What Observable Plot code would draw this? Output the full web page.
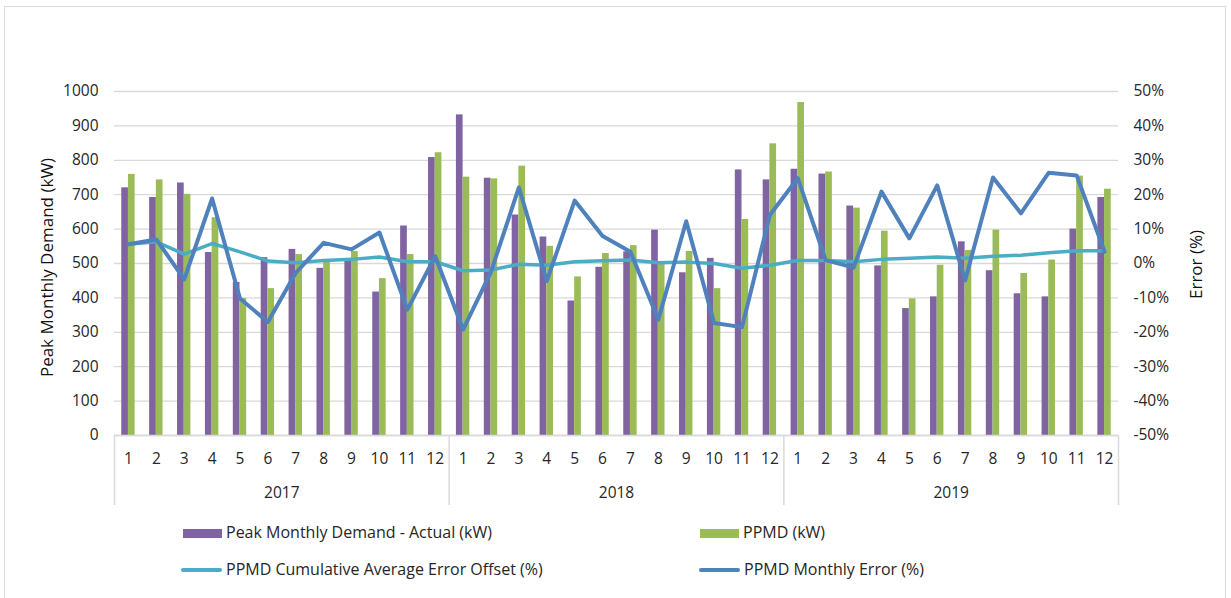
<!DOCTYPE html>
<html>
<head>
<meta charset="utf-8">
<script src="https://cdn.jsdelivr.net/npm/d3@7"></script>
<script src="https://cdn.jsdelivr.net/npm/@observablehq/plot@0.6"></script>
<style>
  html, body { margin: 0; padding: 0; background: #fff; }
  #wrap { position: relative; width: 1231px; height: 598px; overflow: hidden; font-family: "Open Sans", "Noto Sans", sans-serif; color: #262626; }
  #border { position: absolute; left: 4px; top: 6px; width: 1222px; height: 600px; border: 1.5px solid #d9d9d9; box-sizing: border-box; }
  #chart { position: absolute; left: 0; top: 0; }
  .leg { position: absolute; font-size: 16px; line-height: 18px; white-space: nowrap; }
  .sw { position: absolute; }
</style>
</head>
<body>
<div id="wrap">
  <div id="border"></div>
  <div id="chart"></div>
  <div id="legend"></div>
</div>
<script>
// ---- data ----
const years = ["2017", "2018", "2019"];
const monthLabels = ["1","2","3","4","5","6","7","8","9","10","11","12"];
const actualKW = [
  720, 692, 734, 532, 445, 517, 541, 486, 510, 417, 609, 808,
  932, 748, 641, 577, 391, 489, 534, 597, 473, 515, 772, 743,
  774, 760, 667, 493, 369, 403, 563, 479, 412, 403, 600, 692
];
const ppmdKW = [
  759, 743, 701, 633, 398, 427, 526, 505, 535, 456, 526, 822,
  751, 746, 783, 550, 461, 529, 552, 505, 535, 427, 628, 848,
  968, 766, 661, 594, 397, 495, 538, 597, 471, 510, 754, 716
];
const cumErrPct = [
  5.6, 6.3, 2.7, 5.8, 3.4, 0.7, 0.2, 0.9, 1.2, 1.9, 0.5, 0.5,
  -2.1, -1.9, -0.2, -0.5, 0.5, 0.8, 1.0, 0.2, 0.4, 0.0, -1.4, -0.5,
  0.9, 0.9, 0.5, 1.2, 1.5, 1.9, 1.5, 2.1, 2.4, 3.1, 3.7, 3.7
];
const monthlyErrPct = [
  5.6, 7.0, -4.6, 18.9, -10.2, -17.0, -2.7, 6.0, 4.1, 9.0, -13.4, 2.1,
  -19.2, -2.4, 22.1, -5.1, 18.3, 8.0, 3.4, -16.3, 12.3, -17.3, -18.5, 14.1,
  24.8, 1.0, -1.2, 20.9, 7.3, 22.7, -4.9, 25.0, 14.6, 26.4, 25.6, 3.4
];
const kwTicks = [0,100,200,300,400,500,600,700,800,900,1000];
const pctTicks = [-50,-40,-30,-20,-10,0,10,20,30,40,50];
const seriesNames = [
  "Peak Monthly Demand - Actual (kW)",
  "PPMD (kW)",
  "PPMD Cumulative Average Error Offset (%)",
  "PPMD Monthly Error (%)"
];
const leftTitle = "Peak Monthly Demand (kW)";
const rightTitle = "Error (%)";
const colors = ["#8064A2", "#9BBB59", "#4BACC6", "#4F81BD"];

// ---- build ----
const pctDomain = [-50, 50];
const kwDomain = [0, 1000];
const toKW = p => (p - pctDomain[0]) / (pctDomain[1] - pctDomain[0]) * (kwDomain[1] - kwDomain[0]) + kwDomain[0];
const fromKW = k => (k - kwDomain[0]) / (kwDomain[1] - kwDomain[0]) * (pctDomain[1] - pctDomain[0]) + pctDomain[0];

const rows = actualKW.map((v, i) => ({
  i, month: monthLabels[i % 12], year: years[Math.floor(i / 12)],
  actual: v, ppmd: ppmdKW[i], cum: cumErrPct[i], mon: monthlyErrPct[i]
}));
const n = rows.length;
const monthCenters = rows.map(d => d.i + 0.5);
const yearCenters = years.map((y, k) => k * 12 + 6);
const yearBounds = [0, 12, 24, 36];

const chart = Plot.plot({
  width: 1231,
  height: 515,
  marginLeft: 114,
  marginRight: 113,
  marginTop: 91,
  marginBottom: 80,
  x: { type: "linear", domain: [0, n] },
  y: { domain: kwDomain },
  style: { fontFamily: "'Open Sans', 'Noto Sans', sans-serif", fontSize: "15px", color: "#262626", overflow: "visible", background: "transparent" },
  marks: [
    Plot.gridY(kwTicks, { stroke: "#d9d9d9", strokeOpacity: 1, strokeWidth: 1.3 }),
    Plot.axisY(kwTicks, { anchor: "left", tickSize: 0, tickPadding: 16, label: null, fontSize: 15.5, tickFormat: d => String(d) }),
    Plot.axisY(pctTicks.map(toKW), { anchor: "right", tickSize: 0, tickPadding: 15, label: null, fontSize: 15.5, tickFormat: d => `${Math.round(fromKW(d))}%` }),
    Plot.rectY(rows, { x1: d => d.i + 0.26, x2: d => d.i + 0.5, y: "actual", fill: colors[0] }),
    Plot.rectY(rows, { x1: d => d.i + 0.5, x2: d => d.i + 0.74, y: "ppmd", fill: colors[1] }),
    Plot.line(rows, { x: d => d.i + 0.5, y: d => toKW(d.cum), stroke: colors[2], strokeWidth: 3.5, strokeLinejoin: "round" }),
    Plot.line(rows, { x: d => d.i + 0.5, y: d => toKW(d.mon), stroke: colors[3], strokeWidth: 4, strokeLinejoin: "round" }),
    Plot.ruleY([kwDomain[0]], { stroke: "#d9d9d9", strokeWidth: 1.5 }),
    Plot.axisX(monthCenters, { anchor: "bottom", tickSize: 0, tickPadding: 17, label: null, fontSize: 15.5, tickFormat: d => monthLabels[Math.floor(d) % 12] }),
    Plot.axisX(yearBounds, { anchor: "bottom", tickSize: 70, label: null, stroke: "#d9d9d9", strokeWidth: 1.5, strokeOpacity: 1, tickFormat: () => "" }),
    Plot.axisX(yearCenters, { anchor: "bottom", tickSize: 0, tickPadding: 51, label: null, fontSize: 15.5, tickFormat: d => years[Math.floor(d / 12)] }),
    Plot.text([leftTitle], { frameAnchor: "left", textAnchor: "middle", dx: -67, dy: 4, rotate: -90, fontSize: 17, fill: "#111" }),
    Plot.text([rightTitle], { frameAnchor: "right", textAnchor: "middle", dx: 78, dy: 1, rotate: -90, fontSize: 17, fill: "#111" })
  ]
});
document.getElementById("chart").appendChild(chart);

// ---- legend ----
const legend = document.getElementById("legend");
const legendItems = [
  { name: seriesNames[0], color: colors[0], type: "rect", x: 183, y: 533 },
  { name: seriesNames[1], color: colors[1], type: "rect", x: 700, y: 533 },
  { name: seriesNames[2], color: colors[2], type: "line", x: 181, y: 570 },
  { name: seriesNames[3], color: colors[3], type: "line", x: 699, y: 570 }
];
legendItems.forEach(it => {
  const sw = document.createElement("div");
  sw.className = "sw";
  if (it.type === "rect") {
    sw.style.left = it.x + "px"; sw.style.top = (it.y - 4.5) + "px";
    sw.style.width = "39px"; sw.style.height = "9px";
  } else {
    sw.style.left = it.x + "px"; sw.style.top = (it.y - 2) + "px";
    sw.style.width = "41px"; sw.style.height = "4px"; sw.style.borderRadius = "2px";
  }
  sw.style.background = it.color;
  legend.appendChild(sw);
  const t = document.createElement("div");
  t.className = "leg";
  t.textContent = it.name;
  t.style.left = (it.x + (it.type === "rect" ? 43 : 45)) + "px";
  t.style.top = (it.y - 10) + "px";
  legend.appendChild(t);
});
</script>
</body>
</html>
